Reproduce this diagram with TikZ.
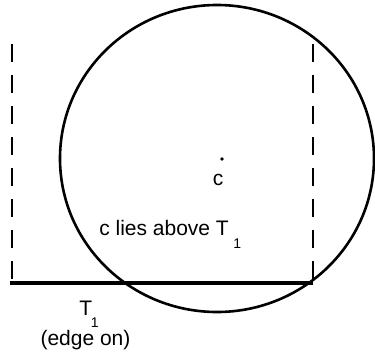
\documentclass[tikz,border=0pt]{standalone}
\usepackage{fontspec}
\setmainfont{Liberation Sans}

\begin{document}
\begin{tikzpicture}[x=1pt, y=-1pt, line width=2.6pt, line join=round,
  wall/.style={line width=2.5pt, dash pattern=on 18pt off 13pt},
  edgeline/.style={line width=4.2pt},
  lbl/.style={inner sep=0pt, anchor=base west, font=\fontsize{21}{25}\selectfont},
  sublbl/.style={inner sep=0pt, anchor=base west, font=\fontsize{14}{17}\selectfont}]

  %% ════ 角点 ════
  \coordinate (tl) at (12.0,44.0);
  \coordinate (bl) at (12.0,283.0);
  \coordinate (tr) at (313.0,44.0);
  \coordinate (br) at (313.0,283.0);
  \coordinate (edgeL) at (10.0,283.0);

  %% ════ 圆与圆心 ════
  \draw (217.0,158.5) ellipse [x radius=157.0, y radius=153.5];
  \node[circle, fill, inner sep=0pt, minimum size=3.6pt] (cdot) at (222.0,159.0) {};

  %% ════ 虚线与 T1（侧视）════
  \draw[wall] (tl) -- (bl);
  \draw[wall] (tr) -- (br);
  \draw[edgeline] (edgeL) -- (br);

  %% ════ 标签 ════
  \node[lbl] (cname) at (211.5,185.0) {c};
  \node[lbl] (claim) at (98.0,235.0) {c lies above T};
  \node[sublbl] (claimsub) at (232.0,248.0) {1};
  \node[lbl] (tname) at (78.0,315.0) {T};
  \node[sublbl] (tsub) at (89.5,327.0) {1};
  \node[lbl, anchor=base] (edgeon) at (85.5,345.0) {(edge on)};

  % 钉死画布
  \pgfresetboundingbox
  \path[use as bounding box] (0,0) rectangle (375,354);
\end{tikzpicture}
\end{document}
